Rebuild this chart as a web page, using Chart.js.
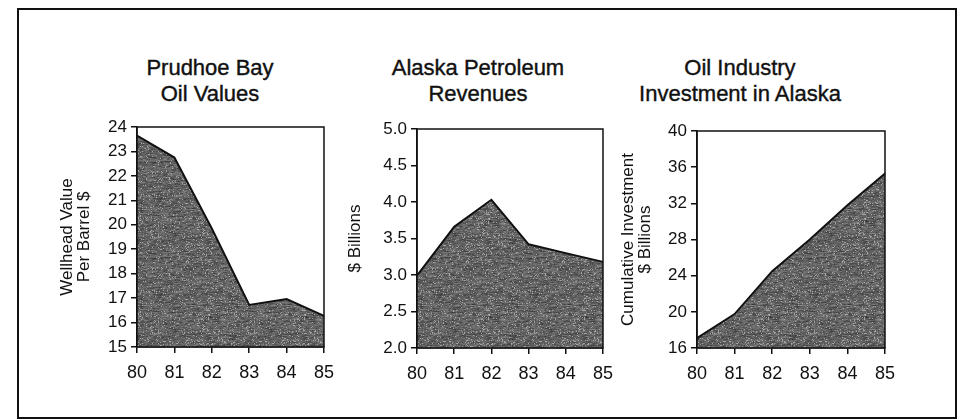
<!DOCTYPE html>
<html>
<head>
<meta charset="utf-8">
<script src="https://cdn.jsdelivr.net/npm/chart.js"></script>
<style>
  body { margin: 0; background: #fff; width: 965px; height: 419px; position: relative; overflow: hidden; font-family: "Liberation Sans", Arial, sans-serif; }
  .frame { position: absolute; left: 17px; top: 8px; width: 936px; height: 407px; border: 2px solid #111; }
  .title { position: absolute; top: 55px; width: 300px; text-align: center; font-size: 22px; line-height: 26px; color: #111; -webkit-text-stroke: 0.4px #111; }
  .panel { position: absolute; top: 110px; height: 280px; }
</style>
</head>
<body>
<div class="frame"></div>
<div class="title" style="left:60px">Prudhoe Bay<br>Oil Values</div>
<div class="title" style="left:328px">Alaska Petroleum<br>Revenues</div>
<div class="title" style="left:590px">Oil Industry<br>Investment in Alaska</div>
<div class="panel" style="left:40px; width:303px"><canvas id="c1"></canvas></div>
<div class="panel" style="left:320px; width:302px"><canvas id="c2"></canvas></div>
<div class="panel" style="left:600px; width:304px"><canvas id="c3"></canvas></div>
<script>
// data
const years = ['80', '81', '82', '83', '84', '85'];
const oilValues = [23.65, 22.75, 19.85, 16.72, 16.96, 16.27];
const petroleumRevenues = [2.99, 3.66, 4.03, 3.42, 3.30, 3.18];
const investment = [17.1, 19.75, 24.5, 28.0, 31.8, 35.3];

// grainy dark grey fill like the print
function makeTexture() {
  const c = document.createElement('canvas');
  c.width = 96; c.height = 96;
  const g = c.getContext('2d');
  const img = g.createImageData(96, 96);
  let seed = 12345;
  const rnd = () => { seed = (seed * 1103515245 + 12345) % 2147483648; return seed / 2147483648; };
  for (let y = 0; y < 96; y++) {
    let prev = rnd();
    for (let x = 0; x < 96; x++) {
      prev = prev * 0.6 + rnd() * 0.4;
      let v = 45 + prev * 105;
      if (rnd() > 0.93) v = 165;
      const i = (y * 96 + x) * 4;
      img.data[i] = img.data[i + 1] = img.data[i + 2] = v;
      img.data[i + 3] = 255;
    }
  }
  g.putImageData(img, 0, 0);
  return g.createPattern(c, 'repeat');
}
const texture = makeTexture();

// closed box round the plot area
const boxPlugin = {
  id: 'box',
  afterDatasetsDraw(chart) {
    const a = chart.chartArea, ctx = chart.ctx;
    ctx.save();
    ctx.strokeStyle = '#111';
    ctx.lineWidth = 1.5;
    ctx.strokeRect(a.left, a.top, a.right - a.left, a.bottom - a.top);
    ctx.restore();
  }
};

function makeChart(id, values, yMin, yMax, step, yTitle, titlePad, pad, xHeight, decimals) {
  return new Chart(document.getElementById(id), {
    type: 'line',
    data: {
      labels: years,
      datasets: [{
        data: values,
        fill: 'start',
        backgroundColor: texture,
        borderColor: '#111',
        borderWidth: 2,
        pointRadius: 0,
        tension: 0
      }]
    },
    options: {
      responsive: true,
      maintainAspectRatio: false,
      animation: false,
      events: [],
      layout: { padding: pad },
      plugins: { legend: { display: false }, tooltip: { enabled: false } },
      scales: {
        x: {
          offset: false,
          afterFit: s => { s.height = xHeight; },
          grid: { drawOnChartArea: false, tickLength: 6, color: '#111', lineWidth: 1.5 },
          border: { color: '#111', width: 1.5 },
          ticks: { color: '#111', padding: 9, maxRotation: 0, font: { family: 'Liberation Sans', size: 18 } }
        },
        y: {
          min: yMin,
          max: yMax,
          afterFit: s => { s.width = 97; },
          grid: { drawOnChartArea: false, tickLength: 6, color: '#111', lineWidth: 1.5 },
          border: { color: '#111', width: 1.5 },
          ticks: {
            stepSize: step,
            color: '#111',
            padding: 4,
            font: { family: 'Liberation Sans', size: 17 },
            callback: v => v.toFixed(decimals)
          },
          title: {
            display: true,
            text: yTitle,
            color: '#111',
            padding: { top: titlePad, bottom: 0 },
            font: { family: 'Liberation Sans', size: 17, lineHeight: 0.98 }
          }
        }
      }
    },
    plugins: [boxPlugin]
  });
}

makeChart('c1', oilValues, 15, 24, 1, ['Wellhead Value', 'Per Barrel $'], 19, { top: 17, right: 7, bottom: 0, left: 0 }, 43, 0);
makeChart('c2', petroleumRevenues, 2, 5, 0.5, '$ Billions', 27, { top: 19, right: 9, bottom: 0, left: 0 }, 42, 1);
makeChart('c3', investment, 16, 40, 4, ['Cumulative Investment', '$ Billions'], 20, { top: 21, right: 4, bottom: 0, left: 0 }, 42, 0);
</script>
</body>
</html>
